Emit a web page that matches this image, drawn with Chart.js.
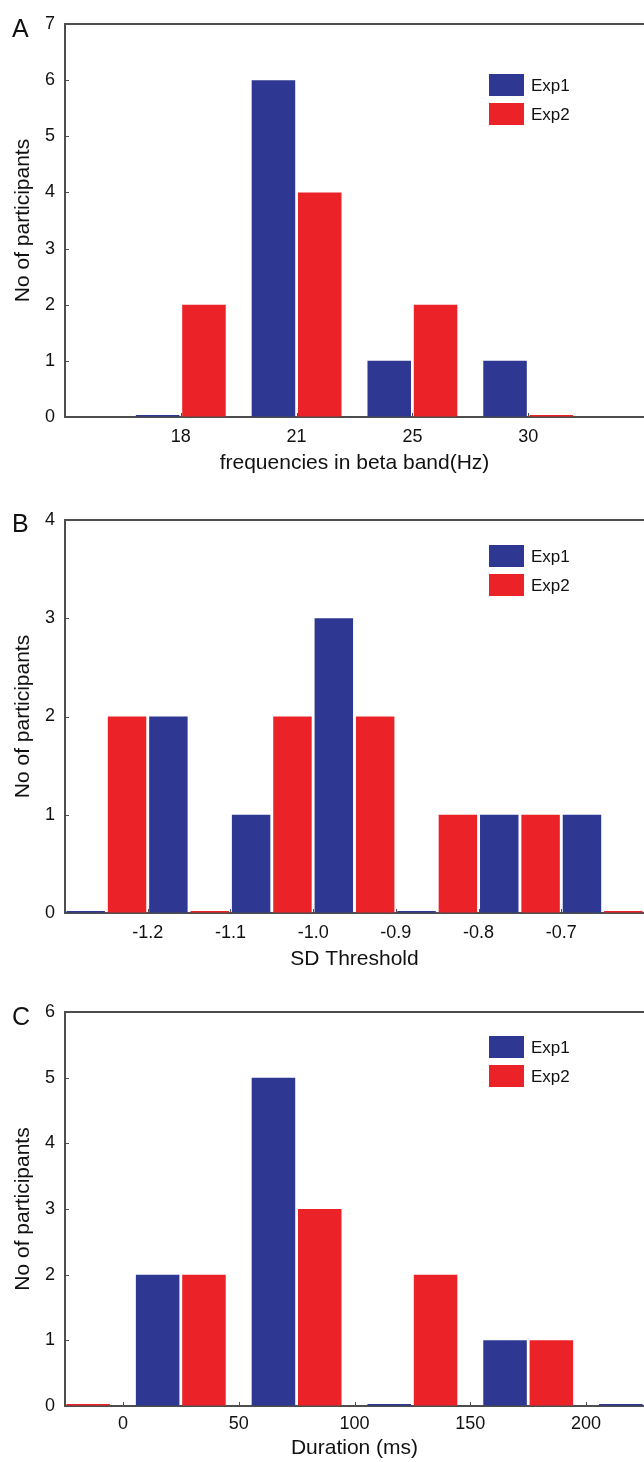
<!DOCTYPE html>
<html>
<head>
<meta charset="utf-8">
<script src="https://cdn.jsdelivr.net/npm/chart.js@4.4.0/dist/chart.umd.min.js"></script>
<style>
  body { margin: 0; background: #fff; overflow: hidden; font-family: "Liberation Sans", Arial, sans-serif; }
  .panel { position: absolute; left: 0; width: 644px; }
  .tag { position: absolute; left: 12px; font-size: 25px; line-height: 28px; color: #111; }
</style>
</head>
<body>
<div class="panel" style="top:0;height:480px"><canvas id="chartA"></canvas></div>
<div class="panel" style="top:496px;height:480px"><canvas id="chartB"></canvas></div>
<div class="panel" style="top:988px;height:474px"><canvas id="chartC"></canvas></div>
<div class="tag" style="top:14px">A</div>
<div class="tag" style="top:509px">B</div>
<div class="tag" style="top:1002px">C</div>
<script>
// panel A - peak frequency (one slot per band, empty slot at each end)
const freqLabels = ['18', '21', '25', '30'];
const freqSlots = [1, 2, 3, 4];
const freqExp1 = [0, 6, 1, 1];
const freqExp2 = [2, 4, 2, 0];

// panel B - SD threshold (bars sit between the ticks)
const sdBins = [-1.25, -1.15, -1.05, -0.95, -0.85, -0.75, -0.65];
const sdTicks = [-1.2, -1.1, -1.0, -0.9, -0.8, -0.7];
const sdExp1 = [0, 2, 1, 3, 0, 1, 1];
const sdExp2 = [2, 0, 2, 2, 1, 1, 0];

// panel C - duration
const durBins = [-25, 25, 75, 125, 175, 225];
const durTicks = [0, 50, 100, 150, 200];
const durExp1 = [0, 2, 5, 0, 1, 0];
const durExp2 = [0, 2, 3, 2, 1, 0];

const blue = '#2e3791';
const red = '#ec2229';
const axisColor = '#4d4d4d';
const textColor = '#111';
Chart.defaults.font.family = '"Liberation Sans", Arial, sans-serif';

// top frame line, small inward tick marks and the boxed legend
const frame = {
    id: 'frame',
    afterDatasetsDraw(chart, args, opts) {
        const { ctx, chartArea: a, scales: { x, y } } = chart;
        ctx.save();
        ctx.strokeStyle = axisColor;
        ctx.lineWidth = 2;
        ctx.beginPath();
        ctx.moveTo(a.left - 1, a.top);
        ctx.lineTo(a.right, a.top);
        ctx.stroke();

        ctx.lineWidth = 1;
        ctx.beginPath();
        x.ticks.forEach((t, i) => {
            const px = Math.round(x.getPixelForTick(i)) + 0.5;
            ctx.moveTo(px, a.bottom);
            ctx.lineTo(px, a.bottom - 4);
        });
        y.ticks.forEach((t, i) => {
            const py = Math.round(y.getPixelForTick(i)) + 0.5;
            ctx.moveTo(a.left, py);
            ctx.lineTo(a.left + 4, py);
        });
        ctx.stroke();

        ctx.font = '17px "Liberation Sans", Arial, sans-serif';
        ctx.textBaseline = 'middle';
        chart.data.datasets.forEach((ds, i) => {
            const top = a.top + opts.top + i * 29;
            ctx.fillStyle = ds.backgroundColor;
            ctx.fillRect(opts.left, top, 35, 22);
            ctx.fillStyle = textColor;
            ctx.fillText(ds.label, opts.left + 42, top + 12);
        });
        ctx.restore();
    }
};

function series(label, color, data) {
    return {
        label: label,
        data: data,
        backgroundColor: color,
        borderWidth: 0,
        minBarLength: 2,
        clip: { left: 0, right: 0, top: 0, bottom: 4 }
    };
}

function makeChart(id, cfg) {
    return new Chart(document.getElementById(id), {
        type: 'bar',
        data: cfg.data,
        options: {
            responsive: true,
            maintainAspectRatio: false,
            animation: false,
            layout: { padding: { top: 24, left: 0, right: 0, bottom: 0 } },
            datasets: { bar: { categoryPercentage: cfg.catPct, barPercentage: cfg.barPct } },
            plugins: {
                legend: { display: false },
                tooltip: { enabled: false },
                frame: { left: 489, top: cfg.legendTop }
            },
            scales: {
                x: {
                    type: 'linear',
                    offset: false,
                    min: cfg.xMin,
                    max: cfg.xMax,
                    afterBuildTicks: s => { s.ticks = cfg.tickValues.map(v => ({ value: v })); },
                    grid: { drawOnChartArea: false, drawTicks: false },
                    border: { color: axisColor, width: 2 },
                    ticks: {
                        autoSkip: false, maxRotation: 0, padding: cfg.tickPad, color: textColor, font: { size: 18 },
                        callback: v => cfg.fmt(v)
                    },
                    title: { display: true, text: cfg.xTitle, color: textColor, font: { size: 21 }, padding: { top: 0, bottom: cfg.titlePad } },
                    afterFit: s => { s.height = cfg.xHeight; }
                },
                y: {
                    min: 0,
                    max: cfg.yMax,
                    ticks: { stepSize: 1, padding: 10, color: textColor, font: { size: 18 } },
                    grid: { drawOnChartArea: false, drawTicks: false },
                    border: { color: axisColor, width: 2 },
                    title: { display: true, text: 'No of participants', color: textColor, font: { size: 21 }, padding: { top: 11, bottom: 0 } },
                    afterFit: s => { s.width = 65; }
                }
            }
        },
        plugins: [frame]
    });
}

const pts = (xs, ys) => xs.map((v, i) => ({ x: v, y: ys[i] }));

makeChart('chartA', {
    xMin: 0,
    xMax: 5,
    tickValues: freqSlots,
    fmt: v => freqLabels[freqSlots.indexOf(v)],
    xTitle: 'frequencies in beta band(Hz)',
    xHeight: 63,
    tickPad: 9,
    titlePad: 4,
    yMax: 7,
    legendTop: 50,
    catPct: 0.8,
    barPct: 0.94,
    data: {
        datasets: [
            series('Exp1', blue, pts(freqSlots, freqExp1)),
            series('Exp2', red, pts(freqSlots, freqExp2))
        ]
    }
});

makeChart('chartB', {
    xMin: -1.3,
    xMax: -0.6,
    tickValues: sdTicks,
    fmt: v => v.toFixed(1),
    xTitle: 'SD Threshold',
    xHeight: 63,
    tickPad: 9,
    titlePad: 4,
    yMax: 4,
    legendTop: 25,
    catPct: 1.0,
    barPct: 0.93,
    data: {
        datasets: [
            series('Exp1', blue, pts(sdBins, sdExp1)),
            series('Exp2', red, pts(sdBins, sdExp2))
        ]
    }
});

makeChart('chartC', {
    xMin: -25,
    xMax: 225,
    tickValues: durTicks,
    fmt: v => String(v),
    xTitle: 'Duration (ms)',
    xHeight: 56,
    tickPad: 7,
    titlePad: 1,
    yMax: 6,
    legendTop: 24,
    catPct: 0.8,
    barPct: 0.94,
    data: {
        datasets: [
            series('Exp1', blue, pts(durBins, durExp1)),
            series('Exp2', red, pts(durBins, durExp2))
        ]
    }
});
</script>
</body>
</html>
